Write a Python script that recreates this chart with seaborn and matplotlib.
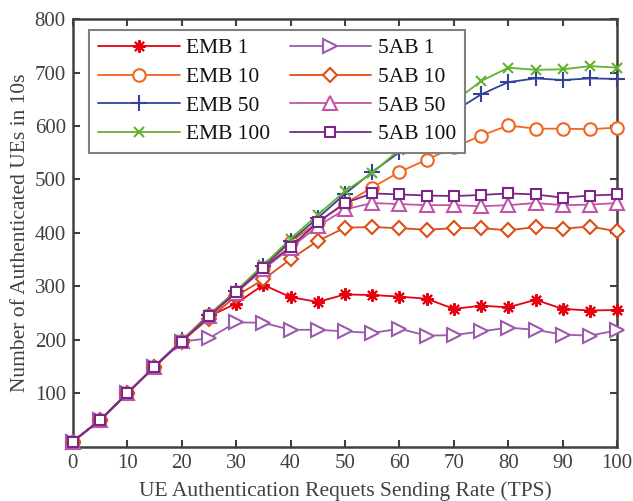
import pandas as pd
import matplotlib.pyplot as plt
import seaborn as sns

# ------------------------------------------------------------------
# data
# ------------------------------------------------------------------
rate = [0, 5, 10, 15, 20, 25, 30, 35, 40, 45, 50, 55, 60, 65, 70, 75, 80, 85, 90, 95, 100]

emb_1 = [10, 50, 100, 150, 198, 244, 268, 303, 280, 271, 285, 284, 281, 277, 258, 264, 261, 275, 258, 255, 256]
emb_10 = [10, 50, 100, 150, 198, 246, 289, 335, 383, 420, 455, 485, 514, 537, 560, 582, 601, 595, 595, 594, 597]
emb_50 = [10, 50, 100, 150, 199, 247, 291, 338, 385, 428, 473, 514, 551, 590, 627, 659, 682, 689, 686, 689, 688]
emb_100 = [10, 50, 100, 150, 199, 247, 292, 340, 389, 434, 478, 512, 556, 605, 645, 684, 709, 705, 706, 712, 709]

ab_1 = [10, 50, 100, 150, 197, 203, 233, 232, 219, 219, 216, 213, 221, 208, 209, 216, 223, 219, 210, 208, 218]
ab_10 = [10, 50, 100, 149, 197, 240, 282, 313, 351, 385, 410, 411, 409, 406, 409, 409, 405, 411, 408, 412, 403]
ab_50 = [10, 50, 100, 150, 198, 245, 288, 332, 372, 413, 444, 456, 454, 452, 452, 450, 452, 456, 452, 453, 456]
ab_100 = [10, 50, 100, 150, 197, 244, 289, 335, 374, 420, 456, 474, 472, 470, 469, 471, 474, 472, 466, 470, 472]

labels = ['EMB 1', 'EMB 10', 'EMB 50', 'EMB 100', '5AB 1', '5AB 10', '5AB 50', '5AB 100']
series = [emb_1, emb_10, emb_50, emb_100, ab_1, ab_10, ab_50, ab_100]

# style per series: colour, marker, size, face
styles = {
    'EMB 1':   ('#e8000f', (8, 2, 0), 9, '#e8000f'),
    'EMB 10':  ('#f2651f', 'o', 9, 'white'),
    'EMB 50':  ('#33429a', '+', 11, 'none'),
    'EMB 100': ('#62b22f', 'x', 7, 'none'),
    '5AB 1':   ('#9b5aae', '>', 10, 'white'),
    '5AB 10':  ('#dc4f14', 'D', 7.5, 'white'),
    '5AB 50':  ('#c254a8', '^', 9.5, 'white'),
    '5AB 100': ('#7a2888', 's', 7.5, 'white'),
}

df = pd.DataFrame({'rate': rate})
for lab, vals in zip(labels, series):
    df[lab] = vals

# ------------------------------------------------------------------
# plot
# ------------------------------------------------------------------
sns.set_style('ticks')
plt.rcParams['font.family'] = ['Liberation Serif', 'DejaVu Serif']
text_col = '#404040'

fig = plt.figure(figsize=(6.33, 5.01), dpi=100)
ax = fig.add_axes([0.115, 0.108, 0.860, 0.854])

for lab in labels:
    col, mk, ms, face = styles[lab]
    sns.lineplot(data=df, x='rate', y=lab, ax=ax, label=lab, color=col,
                 marker=mk, markersize=ms, markerfacecolor=face,
                 markeredgecolor=col, markeredgewidth=1.5, linewidth=1.3,
                 clip_on=False, zorder=3)

ax.set_xlim(0, 100)
ax.set_ylim(0, 800)
ax.set_xticks(range(0, 101, 10))
ax.set_yticks(range(100, 801, 100))
ax.tick_params(direction='in', length=5, width=1.5, top=True, right=True,
               labelsize=15, colors=text_col, pad=5)
for sp in ax.spines.values():
    sp.set_linewidth(1.8)
    sp.set_color('#404040')
    sp.set_visible(True)

ax.set_xlabel('UE Authentication Requets Sending Rate (TPS)', fontsize=15.5, color=text_col, labelpad=6)
ax.set_ylabel('Number of Authenticated UEs in 10s', fontsize=15.5, color=text_col, labelpad=3)

leg = ax.legend(ncol=2, loc='upper left', bbox_to_anchor=(0.03, 0.975),
                fontsize=15.5, frameon=True, fancybox=False, framealpha=1,
                edgecolor='#808080', handlelength=3.8, handletextpad=0.3,
                columnspacing=0.9, labelspacing=0.4, borderpad=0.4,
                borderaxespad=0)
leg.get_frame().set_linewidth(1.5)
leg.set_zorder(5)
for t in leg.get_texts():
    t.set_color('#111111')

plt.savefig('out.png', dpi=100)
plt.close()
